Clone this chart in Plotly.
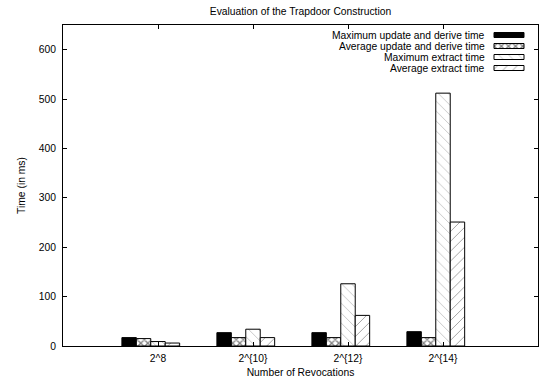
import plotly.graph_objects as go

# ---- data ----
categories = ["2^8", "2^{10}", "2^{12}", "2^{14}"]
series_names = [
    "Maximum update and derive time",
    "Average update and derive time",
    "Maximum extract time",
    "Average extract time",
]
max_update = [17, 27, 27, 29]
avg_update = [15, 17, 17, 17]
max_extract = [9, 34, 126, 512]
avg_extract = [6, 17, 62, 251]
y_ticks = [0, 100, 200, 300, 400, 500, 600]

series_values = [max_update, avg_update, max_extract, avg_extract]

# ---- styles ----
FONT = "Liberation Sans, Arial, Helvetica, sans-serif"
FS = 10.3
patterns = [
    dict(shape="", fillmode="replace"),
    dict(shape="x", fgcolor="black", bgcolor="white", size=5, solidity=0.45),
    dict(shape="\\", fgcolor="black", bgcolor="white", size=7, solidity=0.06),
    dict(shape="/", fgcolor="black", bgcolor="white", size=7, solidity=0.1),
]
fills = ["black", "white", "white", "white"]

bar_w = 0.152
first_off = -0.38

fig = go.Figure()
xs = list(range(len(categories)))
for i, (name, vals) in enumerate(zip(series_names, series_values)):
    fig.add_trace(go.Bar(
        x=xs, y=vals, name=name,
        width=bar_w, offset=first_off + i * bar_w,
        marker=dict(color=fills[i], pattern=patterns[i],
                    line=dict(color="black", width=1)),
        showlegend=False,
    ))

# ---- legend (gnuplot style: text right-aligned, sample on the right) ----
L, R, T, B = 63, 538, 25, 346
row_y = [35, 46, 57, 68]
text_right = 487
samp_x0, samp_len, samp_h = 494, 30, 5
for i, name in enumerate(series_names):
    fig.add_annotation(
        text=name, xref="paper", yref="paper",
        x=(text_right - L) / (R - L), y=(B - row_y[i]) / (B - T),
        xanchor="right", yanchor="middle", showarrow=False,
        font=dict(family=FONT, size=FS, color="black"),
    )
    fig.add_trace(go.Bar(
        x=[samp_len], y=[row_y[i]], base=[samp_x0], orientation="h",
        width=samp_h, xaxis="x2", yaxis="y2",
        marker=dict(color=fills[i], pattern=patterns[i],
                    line=dict(color="black", width=1)),
        showlegend=False, hoverinfo="skip",
    ))

axis_style = dict(
    showline=True, linecolor="black", linewidth=1, mirror="ticks",
    ticks="inside", ticklen=4, tickcolor="black", tickwidth=1,
    showgrid=False, zeroline=False,
    tickfont=dict(family=FONT, size=FS, color="black"),
)

fig.update_layout(
    width=542, height=381,
    margin=dict(l=L, r=542 - R, t=T, b=381 - B),
    paper_bgcolor="white", plot_bgcolor="white",
    barmode="overlay",
    showlegend=False,
    font=dict(family=FONT, size=FS, color="black"),
    title=dict(text="Evaluation of the Trapdoor Construction",
               x=0.5, xref="paper", y=1 - 11 / 381, yanchor="middle",
               font=dict(family=FONT, size=FS, color="black")),
    xaxis=dict(range=[-1, 4], tickvals=xs, ticktext=categories,
               ticklabelstandoff=3,
               title=dict(text="Number of Revocations", standoff=5,
                          font=dict(family=FONT, size=FS, color="black")),
               **axis_style),
    yaxis=dict(range=[0, 650], tickvals=y_ticks,
               title=dict(text="Time (in ms)", standoff=11,
                          font=dict(family=FONT, size=FS, color="black")),
               ticklabelstandoff=4,
               **axis_style),
    xaxis2=dict(overlaying="x", anchor="y2", range=[L, R], visible=False),
    yaxis2=dict(overlaying="y", anchor="x2", range=[B, T], visible=False),
)

fig.write_html("out.html")
